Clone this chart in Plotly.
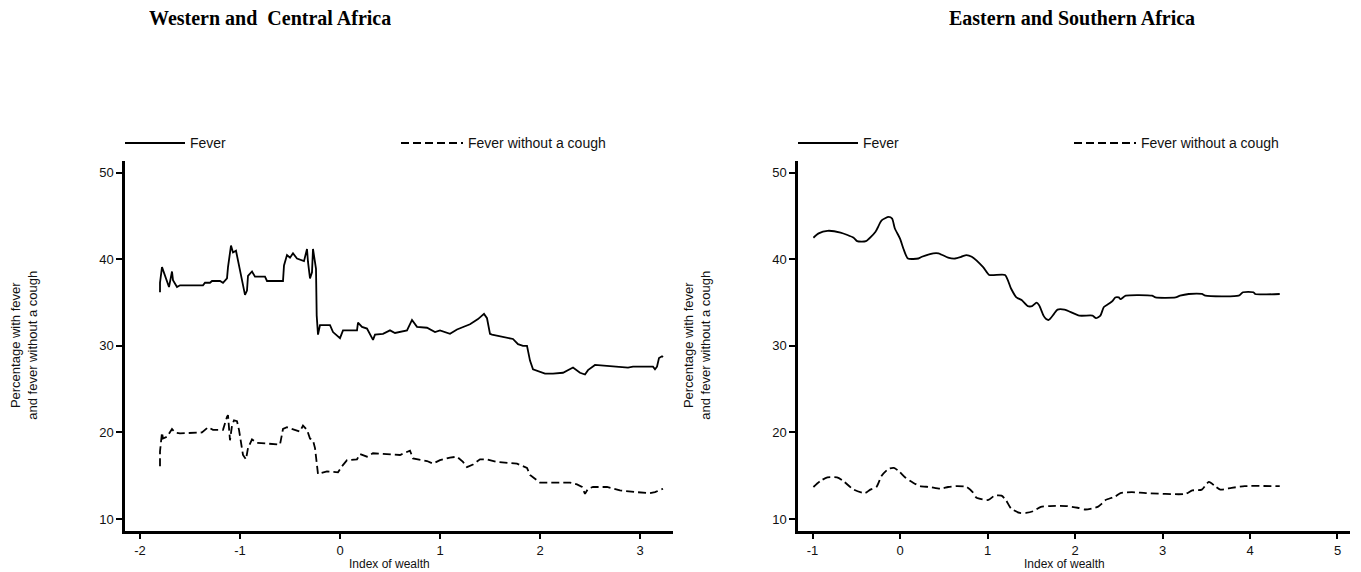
import plotly.graph_objects as go

# ---- data: Western and Central Africa ----
wca_fever_x = [-1.80,-1.80,-1.78,-1.75,-1.71,-1.68,-1.67,-1.63,-1.60,-1.37,-1.35,-1.30,-1.28,-1.20,-1.17,-1.13,-1.12,-1.09,-1.07,-1.04,-1.01,-0.97,-0.95,-0.93,-0.92,-0.88,-0.85,-0.75,-0.73,-0.57,-0.56,-0.53,-0.50,-0.47,-0.43,-0.36,-0.33,-0.32,-0.30,-0.28,-0.27,-0.24,-0.233,-0.22,-0.20,-0.10,-0.07,0.0,0.03,0.17,0.18,0.22,0.27,0.33,0.35,0.43,0.50,0.55,0.67,0.72,0.77,0.87,0.95,1.0,1.1,1.17,1.3,1.38,1.44,1.47,1.5,1.52,1.63,1.73,1.78,1.83,1.87,1.9,1.93,2.05,2.13,2.23,2.33,2.40,2.45,2.48,2.55,2.67,2.80,2.88,2.93,3.13,3.15,3.17,3.19,3.22,3.23]
wca_fever_y = [36.2,37.3,39.1,38.1,36.8,38.6,37.6,36.8,37.0,37.0,37.3,37.3,37.5,37.5,37.3,37.8,39.1,41.6,40.8,41.0,39.3,37.2,35.9,36.4,38.1,38.6,38.0,38.0,37.5,37.5,39.3,40.5,40.2,40.7,40.1,39.8,41.2,39.7,37.8,38.5,41.2,38.9,33.5,31.3,32.4,32.4,31.6,30.9,31.8,31.8,32.7,32.2,32.0,30.7,31.3,31.4,31.8,31.5,31.8,33.0,32.2,32.1,31.6,31.8,31.4,31.9,32.5,33.1,33.7,33.2,31.4,31.3,31.0,30.8,30.2,30.0,30.0,28.3,27.3,26.8,26.8,26.9,27.5,26.9,26.7,27.2,27.8,27.7,27.6,27.5,27.6,27.6,27.3,27.6,28.6,28.8,28.7]

wca_nocough_x = [-1.80,-1.80,-1.78,-1.77,-1.73,-1.68,-1.65,-1.60,-1.38,-1.32,-1.27,-1.17,-1.13,-1.12,-1.10,-1.08,-1.06,-1.03,-1.01,-0.99,-0.97,-0.94,-0.92,-0.88,-0.83,-0.60,-0.57,-0.53,-0.47,-0.40,-0.37,-0.33,-0.30,-0.27,-0.25,-0.23,-0.22,-0.13,-0.02,0.02,0.07,0.17,0.20,0.27,0.33,0.60,0.70,0.73,0.87,0.93,1.0,1.1,1.17,1.23,1.27,1.33,1.40,1.47,1.57,1.77,1.87,1.90,1.95,2.0,2.30,2.37,2.42,2.45,2.48,2.53,2.67,2.80,2.97,3.10,3.15,3.20,3.23]
wca_nocough_y = [16.1,17.8,20.0,19.3,19.5,20.4,20.0,19.9,20.0,20.6,20.3,20.3,21.8,22.0,19.1,20.8,21.4,21.3,20.3,18.8,17.4,16.9,18.2,19.2,18.8,18.6,20.4,20.6,20.4,20.1,20.8,20.3,19.3,19.1,18.2,16.5,15.2,15.5,15.4,16.1,16.8,16.9,17.5,17.2,17.6,17.4,17.9,17.0,16.7,16.4,16.8,17.1,17.2,16.6,16.0,16.3,16.9,16.9,16.6,16.4,15.9,15.1,14.6,14.2,14.2,14.0,13.7,12.9,13.5,13.7,13.7,13.3,13.1,13.0,13.1,13.4,13.5]

# ---- data: Eastern and Southern Africa ----
esa_fever_x = [-0.99,-0.93,-0.83,-0.68,-0.53,-0.49,-0.39,-0.28,-0.21,-0.13,-0.09,-0.06,0.0,0.04,0.09,0.21,0.25,0.38,0.44,0.55,0.63,0.70,0.76,0.82,0.95,1.02,1.20,1.27,1.33,1.39,1.46,1.51,1.56,1.59,1.64,1.67,1.70,1.76,1.80,1.88,2.05,2.20,2.24,2.29,2.33,2.39,2.43,2.46,2.50,2.52,2.58,2.88,2.92,3.15,3.20,3.30,3.45,3.49,3.87,3.92,4.04,4.06,4.34]
esa_fever_y = [42.5,43.0,43.3,43.1,42.5,42.1,42.1,43.2,44.5,44.9,44.7,43.6,42.4,41.2,40.1,40.1,40.3,40.7,40.7,40.2,40.1,40.3,40.5,40.3,39.1,38.2,38.2,36.6,35.6,35.3,34.6,34.6,35.0,34.7,33.5,33.1,33.0,33.7,34.2,34.2,33.5,33.5,33.2,33.5,34.5,34.9,35.2,35.6,35.6,35.4,35.8,35.8,35.6,35.6,35.8,36.0,36.0,35.8,35.8,36.2,36.2,36.0,36.0]

esa_nocough_x = [-0.99,-0.91,-0.83,-0.72,-0.65,-0.53,-0.40,-0.34,-0.27,-0.21,-0.13,-0.07,-0.01,0.06,0.15,0.23,0.34,0.46,0.55,0.65,0.76,0.83,0.87,1.01,1.08,1.16,1.21,1.27,1.37,1.44,1.52,1.61,1.71,1.90,2.03,2.12,2.26,2.31,2.35,2.46,2.52,2.65,2.81,3.26,3.34,3.45,3.53,3.60,3.66,3.79,3.94,4.34]
esa_nocough_y = [13.7,14.4,14.8,14.8,14.4,13.4,13.0,13.4,13.7,15.0,15.8,15.9,15.5,14.8,14.2,13.8,13.7,13.5,13.7,13.8,13.7,13.1,12.5,12.2,12.7,12.7,12.2,11.2,10.7,10.7,10.9,11.4,11.5,11.5,11.3,11.1,11.4,11.8,12.2,12.6,13.0,13.1,13.0,12.9,13.3,13.4,14.3,13.8,13.4,13.6,13.8,13.8]

titles = ["Western and  Central Africa", "Eastern and Southern Africa"]
series_names = ["Fever", "Fever without a cough"]
y_ticks = [10, 20, 30, 40, 50]
wca_x_ticks = [-2, -1, 0, 1, 2, 3]
wca_x_labels = ["-2", "-1", "0", "1", "2", "3"]
esa_x_ticks = [-1, 0, 1, 2, 3, 4, 5]
esa_x_labels = ["-1", "0", "1", "2", "3", "4", "5"]

# page body has an 8px margin: figure is drawn offset by (8, 8)
OX, OY = 8, 8
W, H = 1353, 564
def px(x): return (x - OX) / W
def py(y): return 1 - (y - OY) / H

DASH = "8px,4px"
LW = 1.8

fig = go.Figure()
fig.add_trace(go.Scatter(x=wca_fever_x, y=wca_fever_y, mode="lines",
                         line=dict(color="black", width=LW), xaxis="x", yaxis="y", name=series_names[0]))
fig.add_trace(go.Scatter(x=wca_nocough_x, y=wca_nocough_y, mode="lines",
                         line=dict(color="black", width=LW, dash=DASH), xaxis="x", yaxis="y", name=series_names[1]))
fig.add_trace(go.Scatter(x=esa_fever_x, y=esa_fever_y, mode="lines",
                         line=dict(color="black", width=LW, shape="spline", smoothing=0.6), xaxis="x2", yaxis="y2", name=series_names[0]))
fig.add_trace(go.Scatter(x=esa_nocough_x, y=esa_nocough_y, mode="lines",
                         line=dict(color="black", width=LW, dash=DASH, shape="spline", smoothing=0.6), xaxis="x2", yaxis="y2", name=series_names[1]))

ydom = [py(530.7), py(160.7)]
dom1 = [px(125), px(673)]
dom2 = [px(798), px(1350)]

tickfont = dict(family="Liberation Sans, Arial, sans-serif", size=13, color="#111")
axcommon = dict(showline=True, linecolor="black", linewidth=2.5, ticks="outside",
                ticklen=6, tickwidth=2, tickcolor="black", showgrid=False, zeroline=False,
                tickfont=tickfont, mirror=False)

fig.update_layout(
    width=W, height=H, margin=dict(l=0, r=0, t=0, b=0),
    paper_bgcolor="white", plot_bgcolor="white", showlegend=False,
    xaxis=dict(domain=dom1, range=[-2.15, 3.33], tickvals=wca_x_ticks, ticktext=wca_x_labels, anchor="y", **axcommon),
    yaxis=dict(domain=ydom, range=[8.65, 51.4], tickvals=y_ticks, anchor="x", **axcommon),
    xaxis2=dict(domain=dom2, range=[-1.166, 5.143], tickvals=esa_x_ticks, ticktext=esa_x_labels, anchor="y2", **axcommon),
    yaxis2=dict(domain=ydom, range=[8.65, 51.4], tickvals=y_ticks, anchor="x2", **axcommon),
)

textfont = dict(family="Liberation Sans, Arial, sans-serif", size=13, color="#111")
legfont = dict(family="Liberation Sans, Arial, sans-serif", size=14, color="#111")
xtitlefont = dict(family="Liberation Sans, Arial, sans-serif", size=12, color="#111")
titlefont = dict(family="Liberation Serif, Times New Roman, serif", size=20, color="black")

ann = []
shapes = []
for i, (dom, tcx) in enumerate([(dom1, 270), (dom2, 1072)]):
    ann.append(dict(text="<b>%s</b>" % titles[i], x=px(tcx), y=py(18), xref="paper", yref="paper",
                    showarrow=False, xanchor="center", yanchor="middle", height=20, valign="middle",
                    font=titlefont))
    axpx = dom[0] * W + OX
    cxpx = (dom[0] + dom[1]) / 2 * W + OX
    ann.append(dict(text="Index of wealth", x=px(cxpx - 10), y=py(563), xref="paper", yref="paper",
                    showarrow=False, xanchor="center", yanchor="middle", height=13, font=xtitlefont))
    ann.append(dict(text="Percentage with fever<br>and fever without a cough", x=px(axpx - 101),
                    y=(ydom[0] + ydom[1]) / 2, xref="paper", yref="paper", textangle=-90,
                    showarrow=False, xanchor="center", yanchor="middle", font=textfont))
    # legend
    ly = py(143)
    shapes.append(dict(type="line", xref="paper", yref="paper", x0=px(axpx), x1=px(axpx + 60),
                       y0=ly, y1=ly, line=dict(color="black", width=LW)))
    ann.append(dict(text=series_names[0], x=px(axpx + 63), y=ly, xref="paper", yref="paper",
                    showarrow=False, xanchor="left", yanchor="middle", font=legfont))
    d0 = axpx + 276
    shapes.append(dict(type="line", xref="paper", yref="paper", x0=px(d0), x1=px(d0 + 62),
                       y0=ly, y1=ly, line=dict(color="black", width=LW, dash=DASH)))
    ann.append(dict(text=series_names[1], x=px(d0 + 65), y=ly, xref="paper", yref="paper",
                    showarrow=False, xanchor="left", yanchor="middle", font=legfont))

fig.update_layout(annotations=ann, shapes=shapes)
fig.write_html("out.html")
